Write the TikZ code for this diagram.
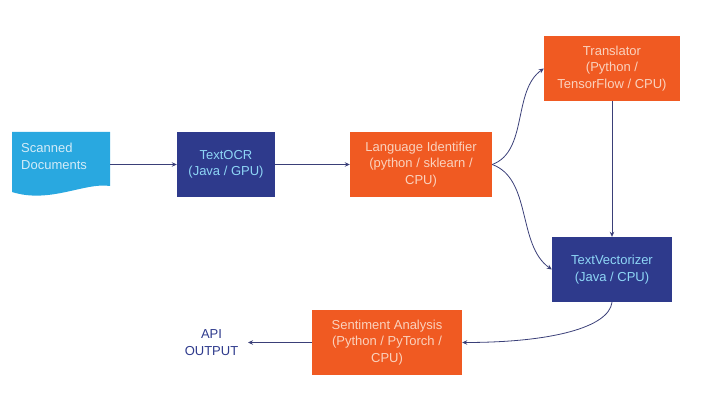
\documentclass[tikz,border=0pt]{standalone}
\usepackage{fontspec}
\setmainfont{Liberation Sans}
\usetikzlibrary{arrows.meta}
\definecolor{orng}{HTML}{F05A22}
\definecolor{dblue}{HTML}{2E3A8C}
\definecolor{lblue}{HTML}{29A8E0}
\definecolor{otext}{HTML}{FAD2BE}
\definecolor{btext}{HTML}{8ED6F6}
\definecolor{stext}{HTML}{D4ECF8}
\definecolor{conn}{HTML}{3A3F78}
\begin{document}
\begin{tikzpicture}[x=1pt,y=1pt,
  txt/.style={font=\fontsize{13}{16.5}\selectfont},
  box/.style={txt,rectangle,draw=none,inner sep=0pt,minimum height=65pt,align=center},
  obox/.style={box,fill=orng,text=otext},
  bbox/.style={box,fill=dblue,text=btext},
  conn/.style={draw=conn,line width=0.8pt,-{Stealth[length=5pt,width=4.5pt]}}]
\useasboundingbox (0,0) rectangle (702,418);
% scanned documents shape
\fill[lblue] (12,286) -- (110,286) -- (110,232) .. controls (85,236) and (50,214) .. (12,226) -- cycle;
\node[box,minimum width=98pt,minimum height=54pt] (scan) at (61,259) {};
\node[txt,anchor=north west,inner sep=0pt,align=left,text=stext] (scantext) at (21,275) {Scanned\\Documents};
\node[bbox,minimum width=98pt] (ocr) at (226,253.5) {TextOCR\\(Java / GPU)};
\node[obox,minimum width=142pt] (lang) at (421,253.5) {Language Identifier\\(python / sklearn /\\CPU)};
\node[obox,minimum width=136pt] (trans) at (612,349.5) {Translator\\(Python /\\TensorFlow / CPU)};
\node[bbox,minimum width=120pt] (vec) at (612,148.5) {TextVectorizer\\(Java / CPU)};
\node[obox,minimum width=150pt] (sent) at (387,75.5) {Sentiment Analysis\\(Python / PyTorch /\\CPU)};
\node[txt,align=center,text=dblue,inner sep=0pt] (api) at (211.5,75.5) {API\\OUTPUT};
\coordinate (apiend) at (248,75.5);
\draw[conn] (scan.east |- ocr.west) -- (ocr.west);
\draw[conn] (ocr.east) -- (lang.west);
\draw[conn] (lang.east) to[out=20,in=215,looseness=0.9] (trans.west);
\draw[conn] (lang.east) to[out=-20,in=145,looseness=0.9] (vec.west);
\draw[conn] (trans.south) -- (vec.north);
\draw[conn] (vec.south) .. controls +(-3,-25) and +(90,0) .. (sent.east);
\draw[conn] (sent.west) -- (apiend);
\end{tikzpicture}
\end{document}
